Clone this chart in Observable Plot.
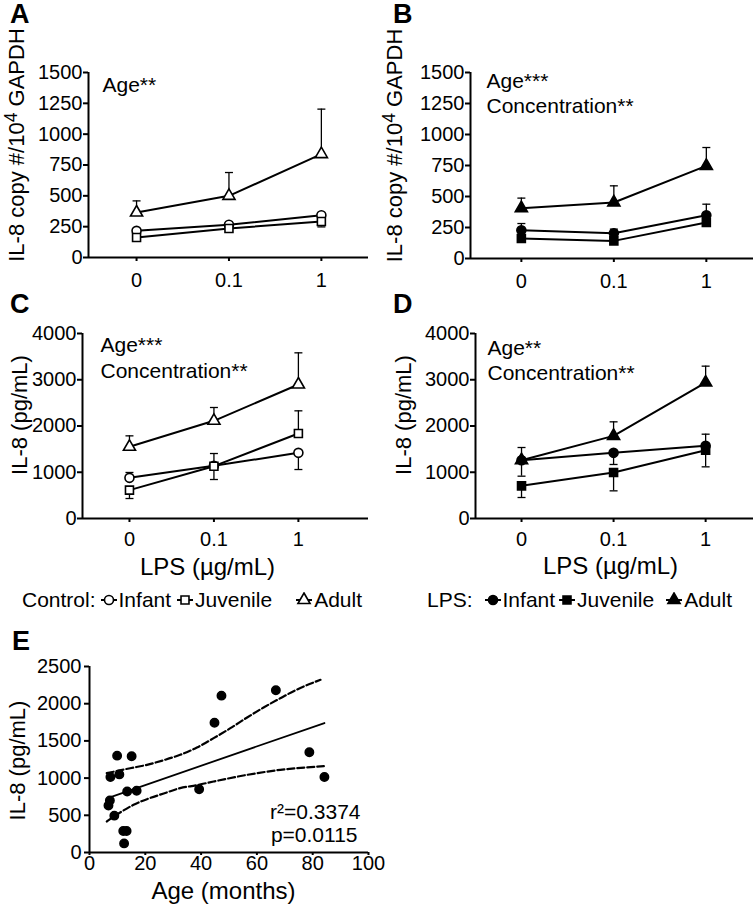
<!DOCTYPE html>
<html><head><meta charset="utf-8">
<script src="https://cdn.jsdelivr.net/npm/d3@7"></script>
<script src="https://cdn.jsdelivr.net/npm/@observablehq/plot@0.6"></script>
<style>
body{margin:0;background:#fff;}
#fig{position:relative;width:756px;height:907px;background:#fff;font-family:"Liberation Sans",Arial,sans-serif;color:#000;overflow:hidden;}
.panel{position:absolute;}
#fig svg g[aria-label$="tick label"] text, #fig svg g[aria-label$="tick label"]{font-size:20px !important;}
.letter{position:absolute;font-weight:bold;font-size:27px;line-height:1;}
.legend{position:absolute;font-size:21px;line-height:24px;height:24px;display:flex;align-items:center;white-space:nowrap;}
.legend svg{display:block;}
</style></head><body><div id="fig"></div>
<script>
// ---------- data ----------
const doses = ["0", "0.1", "1"];
const groups = ["Infant", "Juvenile", "Adult"];

// A: Control, IL-8 copy #/10^4 GAPDH
const aInfant = [216, 265, 343];
const aJuvenile = [162, 235, 292];
const aAdult = [365, 500, 838];
const aInfantErr = [null, null, 360];
const aJuvenileErr = [null, null, 248];
const aAdultErr = [459, 689, 1203];

// B: LPS, IL-8 copy #/10^4 GAPDH
const bInfant = [228, 204, 349];
const bJuvenile = [161, 142, 290];
const bAdult = [406, 452, 747];
const bInfantErr = [282, 237, 438];
const bJuvenileErr = [null, null, null];
const bAdultErr = [487, 586, 895];

// C: Control, IL-8 (pg/mL)
const cInfant = [879, 1139, 1420];
const cJuvenile = [613, 1131, 1838];
const cAdult = [1550, 2112, 2897];
const cInfantErr = [995, 843, 1059];
const cJuvenileErr = [432, 1405, 2328];
const cAdultErr = [1787, 2400, 3582];

// D: LPS, IL-8 (pg/mL)
const dInfant = [1261, 1420, 1571];
const dJuvenile = [706, 995, 1477];
const dAdult = [1261, 1787, 2940];
const dInfantErr = [915, 1168, 1823];
const dJuvenileErr = [454, 598, 1117];
const dAdultErr = [1535, 2090, 3294];

const copyTicks = [0, 250, 500, 750, 1000, 1250, 1500];
const pgTicks = [0, 1000, 2000, 3000, 4000];

// E: scatter IL-8 vs age
const ageMonths = [6.8, 7.3, 7.5, 8.9, 9.9, 10.7, 12.1, 13.3, 12.4, 13.5, 15.1, 16.9, 39.3, 44.8, 47.3, 66.8, 78.8, 84.2];
const il8 = [631, 698, 1014, 495, 1302, 1050, 288, 288, 122, 820, 1293, 829, 851, 1743, 2108, 2180, 1347, 1014];
const ciUpperAge = [6.2, 14.6, 20.6, 26.6, 32.5, 38.5, 44.5, 50.5, 56.5, 62.4, 68.4, 74.4, 82.8];
const ciUpper = [1066, 1133, 1178, 1241, 1313, 1411, 1537, 1671, 1815, 1949, 2074, 2191, 2321];
const ciLowerAge = [6.2, 11.0, 15.8, 20.6, 26.6, 32.5, 38.5, 44.5, 56.5, 68.4, 84.0];
const ciLower = [417, 538, 641, 717, 793, 865, 905, 954, 1044, 1111, 1160];
const ageTicks = [0, 20, 40, 60, 80, 100];
const eTicks = [0, 500, 1000, 1500, 2000, 2500];
const statR2 = "r²=0.3374";
const statP = "p=0.0115";

const titleCopyParts = ["IL-8 copy #/10", "4", " GAPDH"];
const titleCopy = titleCopyParts.join("");
const titlePg = "IL-8 (pg/mL)";
const titleLPS = "LPS (µg/mL)";
const titleAge = "Age (months)";
const annA = ["Age**"];
const annB = ["Age***", "Concentration**"];
const annC = ["Age***", "Concentration**"];
const annD = ["Age**", "Concentration**"];

// ---------- helpers ----------
const FONT = '"Liberation Sans", Arial, Helvetica, sans-serif';
const capSymbol = {draw(ctx, size) { const w = Math.sqrt(size / Math.PI); ctx.moveTo(-w, 0); ctx.lineTo(w, 0); }};
const plain = d => String(d);

function buildRows(vals, errs) {
  const rows = [];
  groups.forEach((g, gi) => vals[gi].forEach((v, i) => rows.push({group: g, i, v, err: errs[gi][i]})));
  return rows;
}

function dosePanel(o) {
  const rows = buildRows(o.vals, o.errs);
  const errRows = rows.filter(d => d.err != null);
  const marks = [
    Plot.ruleY([o.yDomain[0]], {stroke: "black", strokeWidth: 2}),
    Plot.ruleX([o.xDomain[0]], {stroke: "black", strokeWidth: 2}),
    Plot.axisY({ticks: o.yTicks, tickFormat: plain, tickSize: 5, tickPadding: 1, fontSize: 20, strokeWidth: 2, label: null}),
    Plot.axisX({ticks: [0, 1, 2], tickFormat: i => doses[i], tickSize: 4, tickPadding: o.xPad, fontSize: 20, strokeWidth: 2, label: null}),
    Plot.ruleX(errRows, {x: "i", y1: "v", y2: "err", stroke: "black", strokeWidth: 1.3}),
    Plot.dot(errRows, {x: "i", y: "err", symbol: capSymbol, r: 4, fill: "none", stroke: "black", strokeWidth: 1.3}),
    Plot.line(rows, {x: "i", y: "v", z: "group", stroke: "black", strokeWidth: 2}),
    Plot.dot(rows, {x: "i", y: "v", symbol: "group", r: 4.5, fill: o.filled ? "black" : "white", stroke: "black", strokeWidth: 1.6}),
    Plot.text([o.yTitle], {text: d => d, frameAnchor: "left", rotate: -90, lineAnchor: "top", textAnchor: "middle", dx: o.yTitleDx, dy: o.yTitleDy, fontSize: 22, fill: "black"}),
    ...o.ann.map((t, k) => Plot.text([t], {text: d => d, frameAnchor: "top-left", lineAnchor: "top", textAnchor: "start", dx: o.annDx, dy: o.annDy[k], fontSize: 21, fill: "black"}))
  ];
  if (o.xTitle) marks.push(Plot.text([o.xTitle], {text: d => d, frameAnchor: "bottom", lineAnchor: "middle", textAnchor: "middle", dx: o.xTitleDx, dy: o.xTitleDy, fontSize: 24, fill: "black"}));
  return Plot.plot({
    width: o.width, height: o.height,
    marginTop: o.mt, marginBottom: o.mb, marginLeft: o.ml, marginRight: o.mr,
    x: {type: "linear", domain: o.xDomain},
    y: {domain: o.yDomain},
    symbol: {domain: groups, range: ["circle", "square", "triangle"]},
    style: {fontFamily: FONT, fontSize: "20px", color: "black", background: "transparent", overflow: "visible"},
    marks
  });
}

// turn the "10^4" of the copy-number title into a real superscript
function superscriptTitle(svg) {
  svg.querySelectorAll("text").forEach(t => {
    if (t.textContent === titleCopy) {
      t.textContent = "";
      const ns = "http://www.w3.org/2000/svg";
      const a = document.createElementNS(ns, "tspan"); a.textContent = titleCopyParts[0];
      const b = document.createElementNS(ns, "tspan"); b.textContent = titleCopyParts[1];
      b.setAttribute("dy", "-0.42em"); b.setAttribute("font-size", "0.8em");
      const c = document.createElementNS(ns, "tspan"); c.textContent = titleCopyParts[2];
      c.setAttribute("dy", "0.336em");
      t.append(a, b, c);
    }
  });
  return svg;
}

const fig = document.getElementById("fig");
function place(el, left, top) {
  el.classList.add("panel");
  el.style.left = left + "px";
  el.style.top = top + "px";
  fig.appendChild(el);
}

place(superscriptTitle(dosePanel({vals: [aInfant, aJuvenile, aAdult], errs: [aInfantErr, aJuvenileErr, aAdultErr], filled: false,
  width: 378, height: 300, mt: 72, mb: 43, ml: 88, mr: 10, xDomain: [-0.52, 2.51], yDomain: [0, 1500], yTicks: copyTicks, xPad: 11,
  yTitle: titleCopy, yTitleDx: -80, yTitleDy: -20, ann: annA, annDx: 14, annDy: [5]})), 0, 0);

place(superscriptTitle(dosePanel({vals: [bInfant, bJuvenile, bAdult], errs: [bInfantErr, bJuvenileErr, bAdultErr], filled: true,
  width: 378, height: 300, mt: 72, mb: 42, ml: 92, mr: 3, xDomain: [-0.55, 2.51], yDomain: [0, 1500], yTicks: copyTicks, xPad: 11,
  yTitle: titleCopy, yTitleDx: -84, yTitleDy: -20, ann: annB, annDx: 16, annDy: [1, 26]})), 378, 0);

place(dosePanel({vals: [cInfant, cJuvenile, cAdult], errs: [cInfantErr, cJuvenileErr, cAdultErr], filled: false,
  width: 378, height: 300, mt: 53, mb: 62, ml: 82, mr: 10, xDomain: [-0.556, 2.83], yDomain: [0, 4000], yTicks: pgTicks, xPad: 9,
  yTitle: titlePg, yTitleDx: -71, yTitleDy: -11, ann: annC, annDx: 18, annDy: [4, 30],
  xTitle: titleLPS, xTitleDx: -18, xTitleDy: 49}), 0, 280);

place(dosePanel({vals: [dInfant, dJuvenile, dAdult], errs: [dInfantErr, dJuvenileErr, dAdultErr], filled: true,
  width: 378, height: 300, mt: 53, mb: 62, ml: 97, mr: 3, xDomain: [-0.5, 2.52], yDomain: [0, 4000], yTicks: pgTicks, xPad: 9,
  yTitle: titlePg, yTitleDx: -80, yTitleDy: -11, ann: annD, annDx: 12, annDy: [7, 32],
  xTitle: titleLPS, xTitleDx: -4, xTitleDy: 48}), 378, 280);

// Panel E
const scatter = ageMonths.map((a, k) => ({age: a, il8: il8[k]}));
const upper = ciUpperAge.map((a, k) => ({age: a, il8: ciUpper[k]}));
const lower = ciLowerAge.map((a, k) => ({age: a, il8: ciLower[k]}));
const plotE = Plot.plot({
  width: 378, height: 307, marginTop: 66, marginBottom: 55, marginLeft: 89, marginRight: 10,
  x: {domain: [0, 100]}, y: {domain: [0, 2500]},
  style: {fontFamily: FONT, fontSize: "20px", color: "black", background: "transparent", overflow: "visible"},
  marks: [
    Plot.ruleY([0], {stroke: "black", strokeWidth: 2}),
    Plot.ruleX([0], {stroke: "black", strokeWidth: 2}),
    Plot.axisY({ticks: eTicks, tickFormat: plain, tickSize: 5, tickPadding: 3, fontSize: 20, strokeWidth: 2, label: null}),
    Plot.axisX({ticks: ageTicks, tickFormat: plain, tickSize: 3, tickPadding: 0, fontSize: 20, strokeWidth: 2, label: null}),
    Plot.line(upper, {x: "age", y: "il8", curve: "monotone-x", stroke: "black", strokeWidth: 2.2, strokeDasharray: "7,3"}),
    Plot.line(lower, {x: "age", y: "il8", curve: "monotone-x", stroke: "black", strokeWidth: 2.2, strokeDasharray: "7,3"}),
    Plot.linearRegressionY(scatter, {x: "age", y: "il8", ci: 0, stroke: "black", strokeWidth: 1.8}),
    Plot.dot(scatter, {x: "age", y: "il8", r: 4.2, fill: "black", stroke: "black"}),
    Plot.text([statR2], {text: d => d, frameAnchor: "bottom-right", lineAnchor: "middle", textAnchor: "end", dx: -8, dy: -40, fontSize: 21, fill: "black"}),
    Plot.text([statP], {text: d => d, frameAnchor: "bottom-right", lineAnchor: "middle", textAnchor: "end", dx: -11, dy: -17, fontSize: 21, fill: "black"}),
    Plot.text([titlePg], {text: d => d, frameAnchor: "left", rotate: -90, lineAnchor: "top", textAnchor: "middle", dx: -80, dy: 1, fontSize: 22, fill: "black"}),
    Plot.text([titleAge], {text: d => d, frameAnchor: "bottom", lineAnchor: "middle", textAnchor: "middle", dx: -5.5, dy: 39, fontSize: 24, fill: "black"})
  ]
});
place(plotE, 0, 600);

// panel letters
[["A", 10, 1], ["B", 393, 1], ["C", 10, 291], ["D", 393, 291], ["E", 12, 628]].forEach(([t, x, y]) => {
  const d = document.createElement("div");
  d.className = "letter"; d.textContent = t; d.style.left = x + "px"; d.style.top = y + "px";
  fig.appendChild(d);
});

// legends
function marker(sym, filled) {
  const path = d3.symbol(sym, Math.PI * 4.5 * 4.5)();
  return `<svg width="16" height="16" viewBox="-8 -8 16 16"><line x1="-8" x2="8" y1="0" y2="0" stroke="black" stroke-width="2"/><path d="${path}" fill="${filled ? "black" : "white"}" stroke="black" stroke-width="1.6"/></svg>`;
}
const syms = [d3.symbolCircle, d3.symbolSquare, d3.symbolTriangle];
function legend(title, filled, left, gaps) {
  const d = document.createElement("div");
  d.className = "legend";
  d.style.left = left + "px"; d.style.top = "588px";
  let html = `<span>${title}</span>`;
  groups.forEach((g, k) => {
    html += `<span style="margin-left:${gaps[k]}px">${marker(syms[k], filled)}</span><span style="margin-left:2px">${g}</span>`;
  });
  d.innerHTML = html;
  fig.appendChild(d);
}
legend("Control:", false, 22, [5, 6, 24]);
legend("LPS:", true, 427, [12, 4, 12]);
</script></body></html>
